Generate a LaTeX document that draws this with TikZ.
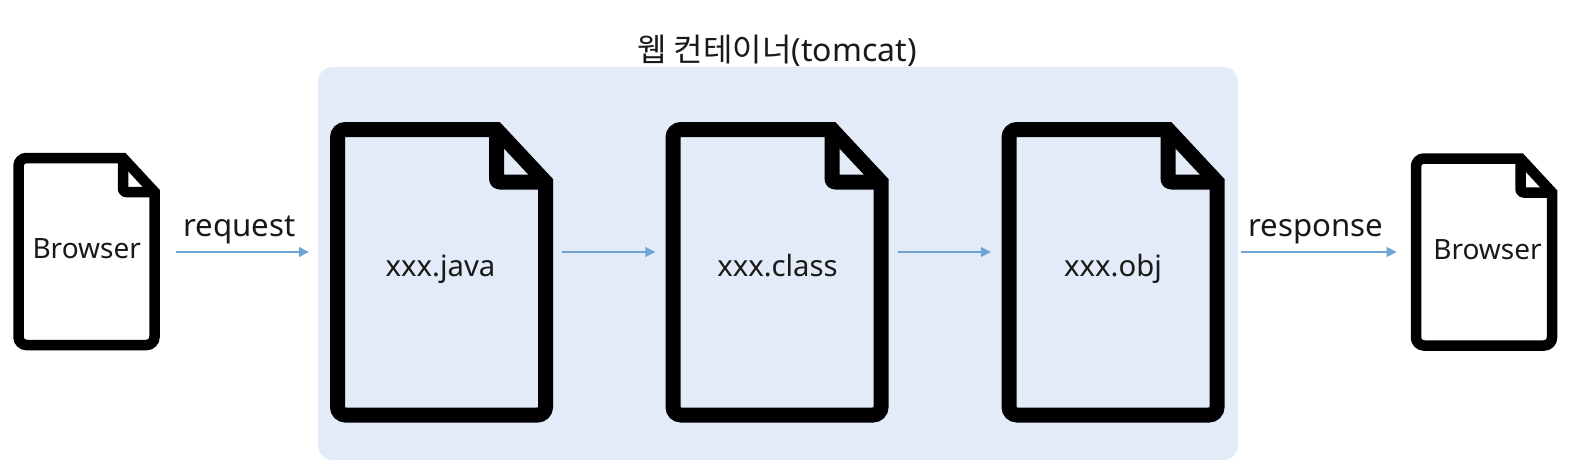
\documentclass[tikz,border=0pt]{standalone}
\usepackage{fontspec}
\setmainfont{Noto Sans}
\newfontfamily\krfont{Noto Sans CJK KR}
\usepackage{tikz}
\usetikzlibrary{arrows.meta,positioning,calc}
\definecolor{contcol}{HTML}{E2EBF7}
\definecolor{flowcol}{HTML}{6FA5D6}
\tikzset{
  smalltext/.style={inner sep=0pt,anchor=base,font=\fontsize{28}{32}\selectfont,text=black!90},
  bigtext/.style={inner sep=0pt,anchor=base,font=\fontsize{29.3}{34}\selectfont,text=black!90},
  flow/.style={-{Triangle[length=10pt,width=10pt]},flowcol,line width=1.2pt},
  flowtext/.style={inner sep=0pt,anchor=base,font=\fontsize{31.2}{36}\selectfont,text=black!90}
}
% file icon: name, centre, half width, half height, fold size, stroke
\newcommand{\docicon}[8]{
  \node[inner sep=0pt,minimum width=2*#4*1pt+#8*1pt,minimum height=2*#5*1pt+#8*1pt] (#1) at (#2,#3) {};
  \begin{scope}[shift={(#2,#3)}]
    \draw[line width=#8pt,line join=miter]
      [rounded corners=8pt] (#4-#6,-#5) -- (-#4,-#5) -- (-#4,#5) -- (#4,#5)
      [sharp corners] -- (#4,-#5+#7) -- cycle;
    \draw[line width=#8pt,line join=round,rounded corners=3pt]
      (#4-#6,-#5) -- (#4-#6,-#5+#7) -- (#4,-#5+#7);
  \end{scope}
}
\begin{document}
\begin{tikzpicture}[x=1pt,y=-1pt]
  \useasboundingbox (0,0) rectangle (1572,460);
  % container behind the files
  \fill[contcol,rounded corners=15pt] (318,67) rectangle (1238,460);
  \node[inner sep=0pt,anchor=base,font=\fontsize{32}{36}\selectfont,text=black!90] (conttitle) at (777,62) {{\krfont 웹 컨테이너}(tomcat)};
  % the row of files
  \docicon{browserin}{86.5}{251.5}{68}{93.5}{31.5}{34}{10.5}
  \docicon{java}{441.5}{272.25}{104}{142.75}{49}{52.5}{15}
  \docicon{class}{777}{272.25}{104}{142.75}{49}{52.5}{15}
  \docicon{obj}{1113}{272.25}{104}{142.75}{49}{52.5}{15}
  \docicon{browserout}{1484}{252}{68}{93.5}{31.5}{34}{10.5}
  % file names
  \foreach \n/\x/\y/\t/\s in {browserintext/86.7/258/Browser/smalltext,javatext/440.5/276/xxx.java/bigtext,classtext/777.5/276/xxx.class/bigtext,objtext/1113/276/xxx.obj/bigtext,browserouttext/1487.5/259/Browser/smalltext} {
    \node[\s] (\n) at (\x,\y) {\t};
  }
  % arrows run on one line
  \coordinate (flowline) at (0,252);
  \draw[flow,shorten <=16pt,shorten >=21pt] (browserin.east |- flowline) -- (java.west |- flowline);
  \draw[flow,shorten <=9pt,shorten >=10pt] (java.east |- flowline) -- (class.west |- flowline);
  \draw[flow,shorten <=9pt,shorten >=10.5pt] (class.east |- flowline) -- (obj.west |- flowline);
  \draw[flow,shorten <=16.5pt,shorten >=14pt] (obj.east |- flowline) -- (browserout.west |- flowline);
  \node[flowtext] (reqtext) at (239.5,236) {request};
  \node[flowtext] (resptext) at (1316,236) {response};
\end{tikzpicture}
\end{document}
